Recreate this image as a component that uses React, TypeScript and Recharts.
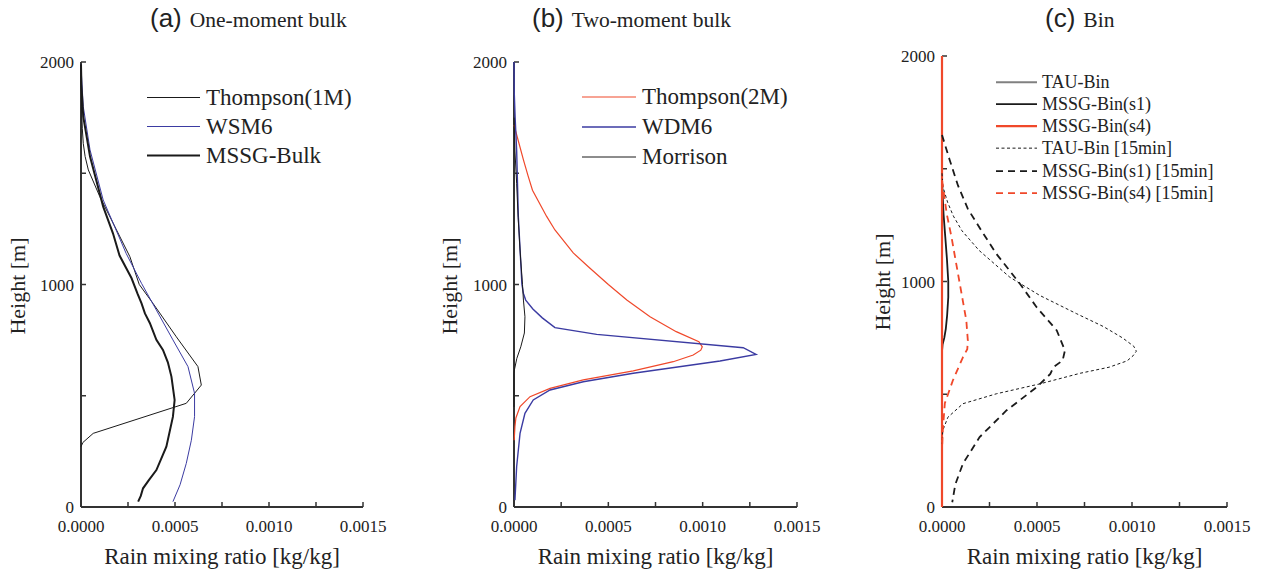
import React from "react"
import { Label, Legend, Scatter, ScatterChart, XAxis, YAxis } from "recharts"

const SERIF = '"Liberation Serif", "Times New Roman", Times, serif'
const SANS = '"Liberation Sans", Arial, sans-serif'

// axis ticks
const xTicks = [0, 0.00025, 0.0005, 0.00075, 0.001, 0.00125, 0.0015]
const xTickLabels = ["0.0000", "", "0.0005", "", "0.0010", "", "0.0015"]
const yTicks = [0, 500, 1000, 1500, 2000]
const yTickLabels = ["0", "", "1000", "", "2000"]

// (a) one-moment bulk: height [m] / rain mixing ratio [kg/kg]
const thompson1mH = [1975, 1800, 1700, 1634, 1575, 1515, 1395, 1245, 1125, 1000, 915, 765, 631, 548, 466, 331, 290, 271]
const thompson1mQ = [0, 0.000003, 0.000007, 0.000012, 0.000022, 0.000039, 0.0001, 0.000189, 0.00026, 0.00031, 0.000383, 0.000507, 0.000622, 0.00064, 0.00056, 0.000065, 0.00001, 0]
const wsm6H = [1990, 1935, 1800, 1605, 1380, 1140, 1005, 885, 751, 631, 511, 406, 300, 196, 100, 24]
const wsm6Q = [0, 0.000003, 0.000012, 0.000048, 0.000118, 0.00024, 0.000322, 0.000401, 0.000489, 0.000569, 0.000604, 0.000604, 0.000587, 0.00056, 0.000527, 0.000489]
const mssgBulkH = [1990, 1900, 1754, 1575, 1350, 1230, 1130, 1028, 960, 915, 870, 827, 751, 706, 650, 586, 481, 406, 271, 166, 120, 84, 50, 24]
const mssgBulkQ = [0, 0.000002, 0.000012, 0.000048, 0.000118, 0.00017, 0.000205, 0.000269, 0.0003, 0.000322, 0.00034, 0.000366, 0.000401, 0.000436, 0.000462, 0.000481, 0.000498, 0.000489, 0.000454, 0.000401, 0.00036, 0.00033, 0.000318, 0.000304]

// (b) two-moment bulk
const thompson2mH = [1717, 1645, 1560, 1487, 1424, 1306, 1245, 1142, 1080, 1000, 930, 855, 788, 743, 720, 705, 683, 653, 612, 571, 533, 496, 451, 400, 361, 300]
const thompson2mQ = [0, 0.000023, 0.00005, 0.000075, 0.000098, 0.000173, 0.000217, 0.000314, 0.000394, 0.0005, 0.000598, 0.000721, 0.00086, 0.00098, 0.000998, 0.00099, 0.00095, 0.000844, 0.000632, 0.000367, 0.000191, 0.000085, 0.000032, 0.00001, 0.000005, 0.000001]
const wdm6H = [2000, 1870, 1750, 1604, 1305, 1080, 1000, 960, 930, 890, 850, 806, 776, 716, 686, 656, 601, 563, 526, 481, 421, 331, 181, 31]
const wdm6Q = [0, 0.000001, 0.000006, 0.000014, 0.000023, 0.000037, 0.000042, 0.00005, 0.000062, 0.0001, 0.00015, 0.000217, 0.000438, 0.001215, 0.001283, 0.001092, 0.000632, 0.000367, 0.000191, 0.000102, 0.000058, 0.000032, 0.000014, 0.000005]
const morrisonH = [1750, 1600, 1455, 1300, 1155, 1000, 930, 855, 782, 720, 668, 620, 600, 450]
const morrisonQ = [0, 0.000005, 0.000014, 0.000022, 0.000032, 0.000045, 0.00005, 0.000058, 0.000055, 0.000036, 0.000015, 0.000003, 0, 0]

// (c) bin
const tauBinH = [2000, 0]
const tauBinQ = [0, 0]
const mssgS1H = [1450, 1300, 1200, 1100, 1000, 930, 850, 790, 750, 720, 690, 0]
const mssgS1Q = [0, 0.000008, 0.000017, 0.000026, 0.000033, 0.000033, 0.000027, 0.00002, 0.000012, 0.000003, 0, 0]
const mssgS4H = [2000, 0]
const mssgS4Q = [0, 0]
const tau15H = [1480, 1420, 1350, 1290, 1225, 1138, 1019, 938, 857, 800, 750, 713, 691, 670, 648, 620, 593, 546, 502, 458, 398, 339, 280]
const tau15Q = [0, 0.000005, 0.00003, 0.00006, 0.000105, 0.000195, 0.000357, 0.000515, 0.000709, 0.00085, 0.00095, 0.001009, 0.001023, 0.001005, 0.000974, 0.00088, 0.000727, 0.000515, 0.000286, 0.00011, 0.000031, 0.000004, 0]
const mssgS1_15H = [1650, 1540, 1426, 1322, 1226, 1123, 990, 886, 783, 694, 650, 620, 590, 531, 428, 310, 192, 100, 21]
const mssgS1_15Q = [0, 0.00004, 0.000084, 0.000136, 0.000207, 0.000286, 0.00041, 0.000498, 0.000604, 0.000647, 0.000635, 0.000586, 0.00057, 0.000498, 0.000339, 0.000198, 0.00011, 0.00007, 0.000054]
const mssgS4_15H = [1450, 1300, 1197, 1078, 960, 827, 738, 700, 664, 561, 460, 339, 250]
const mssgS4_15Q = [0, 0.000025, 0.00005, 0.000075, 0.0001, 0.000128, 0.000136, 0.000133, 0.00011, 0.000057, 0.000015, 0.000004, 0]

const toPoints = (h: number[], q: number[]) => h.map((y, i) => ({ x: q[i], y }))

const RED = "#f0482a"
const BLUE = "#3b3ba2"
const BLACK = "#1a1a1a"

type Series = { name: string; points: { x: number; y: number }[]; color: string; width: number; dash?: string }

const panelA: Series[] = [
  { name: "Thompson(1M)", points: toPoints(thompson1mH, thompson1mQ), color: BLACK, width: 1 },
  { name: "WSM6", points: toPoints(wsm6H, wsm6Q), color: BLUE, width: 1 },
  { name: "MSSG-Bulk", points: toPoints(mssgBulkH, mssgBulkQ), color: BLACK, width: 2 },
]
const panelB: Series[] = [
  { name: "Thompson(2M)", points: toPoints(thompson2mH, thompson2mQ), color: RED, width: 1.2 },
  { name: "WDM6", points: toPoints(wdm6H, wdm6Q), color: BLUE, width: 1.4 },
  { name: "Morrison", points: toPoints(morrisonH, morrisonQ), color: BLACK, width: 1 },
]
const panelC: Series[] = [
  { name: "TAU-Bin", points: toPoints(tauBinH, tauBinQ), color: "#808080", width: 2 },
  { name: "MSSG-Bin(s1)", points: toPoints(mssgS1H, mssgS1Q), color: BLACK, width: 1.8 },
  { name: "MSSG-Bin(s4)", points: toPoints(mssgS4H, mssgS4Q), color: RED, width: 2.2 },
  { name: "TAU-Bin [15min]", points: toPoints(tau15H, tau15Q), color: BLACK, width: 1, dash: "3 2.5" },
  { name: "MSSG-Bin(s1) [15min]", points: toPoints(mssgS1_15H, mssgS1_15Q), color: BLACK, width: 1.8, dash: "7 5" },
  { name: "MSSG-Bin(s4) [15min]", points: toPoints(mssgS4_15H, mssgS4_15Q), color: RED, width: 1.8, dash: "7 5" },
]

const NoDot = () => <g />

const PanelLegend = ({ items, rowH, fontSize, lineLen, gap }) => (
  <div style={{ fontFamily: SERIF, fontSize, color: "#222" }}>
    {items.map((s: Series) => (
      <div key={s.name} style={{ display: "flex", alignItems: "center", height: rowH, whiteSpace: "nowrap" }}>
        <svg width={lineLen} height={rowH} style={{ display: "block" }}>
          <line x1={0} x2={lineLen} y1={rowH / 2} y2={rowH / 2} stroke={s.color} strokeWidth={s.width} strokeDasharray={s.dash} />
        </svg>
        <span style={{ marginLeft: gap, lineHeight: `${rowH}px` }}>{s.name}</span>
      </div>
    ))}
  </div>
)

const axisLine = { stroke: "#333", strokeWidth: 2 }
const tickLine = { stroke: "#333", strokeWidth: 1.5 }
const tickStyle = { fill: "#222", fontSize: 17, fontFamily: SERIF }

const Panel = ({ left, width, plotLeft, plotRight, plotTop, plotBottom, series, legend }) => {
  const yAxisW = 40
  const xAxisH = 40
  return (
    <div style={{ position: "absolute", left, top: 0 }}>
      <ScatterChart
        width={width}
        height={574}
        margin={{ top: plotTop, bottom: 574 - plotBottom - xAxisH, left: plotLeft - left - yAxisW, right: left + width - plotRight }}
        style={{ fontFamily: SERIF }}
      >
        <XAxis xAxisId="x" type="number" dataKey="x" domain={[0, 0.0015]} ticks={xTicks} interval={0}
          tickFormatter={(v) => xTickLabels[xTicks.indexOf(v)] ?? ""} height={xAxisH}
          tickSize={-5} tickMargin={18} axisLine={axisLine} tickLine={tickLine} tick={tickStyle}>
          <Label value="Rain mixing ratio [kg/kg]" position="bottom" offset={1} fontSize={23} fontFamily={SERIF} fill="#222" />
        </XAxis>
        <XAxis xAxisId="top" orientation="top" type="number" domain={[0, 0.0015]} ticks={xTicks} interval={0}
          tickFormatter={() => ""} height={0} tickSize={-5} axisLine={axisLine} tickLine={tickLine} />
        <YAxis yAxisId="y" type="number" dataKey="y" domain={[0, 2000]} ticks={yTicks} interval={0}
          tickFormatter={(v) => yTickLabels[yTicks.indexOf(v)] ?? ""} width={yAxisW}
          tickSize={-5} tickMargin={12} axisLine={axisLine} tickLine={tickLine} tick={tickStyle} />
        <YAxis yAxisId="right" orientation="right" type="number" domain={[0, 2000]} ticks={yTicks} interval={0}
          tickFormatter={() => ""} width={0} tickSize={-5} axisLine={axisLine} tickLine={tickLine} />
        {series.map((s: Series) => (
          <Scatter key={s.name} name={s.name} data={s.points} xAxisId="x" yAxisId="y" fill="none"
            line={{ stroke: s.color, strokeWidth: s.width, strokeDasharray: s.dash }}
            shape={NoDot} legendType="none" isAnimationActive={false} />
        ))}
        <Legend layout="vertical" align="center" verticalAlign="middle"
          wrapperStyle={{ left: legend.left - left, top: legend.top, width: "auto" }}
          content={() => <PanelLegend items={series} rowH={legend.rowH} fontSize={legend.fontSize} lineLen={legend.lineLen} gap={legend.gap} />} />
      </ScatterChart>
    </div>
  )
}

const titles = [
  { tag: "(a)", name: "One-moment bulk", x: 150 },
  { tag: "(b)", name: "Two-moment bulk", x: 532 },
  { tag: "(c)", name: "Bin", x: 1045 },
]
const yLabels = [
  { x: 25, y: 286 },
  { x: 456.5, y: 286 },
  { x: 889.5, y: 282 },
]

export default function App() {
  return (
    <div style={{ position: "absolute", left: 0, top: 0, width: 1267, height: 574, background: "#fff" }}>
      <Panel left={0} width={420} plotLeft={81} plotRight={363} plotTop={62} plotBottom={507} series={panelA}
        legend={{ left: 147, top: 82.5, rowH: 29, fontSize: 23, lineLen: 53, gap: 6 }} />
      <Panel left={430} width={420} plotLeft={514} plotRight={797} plotTop={62} plotBottom={507} series={panelB}
        legend={{ left: 582, top: 81.7, rowH: 30, fontSize: 23, lineLen: 54, gap: 6 }} />
      <Panel left={860} width={407} plotLeft={942} plotRight={1227} plotTop={56} plotBottom={507} series={panelC}
        legend={{ left: 996, top: 70.5, rowH: 22.3, fontSize: 18, lineLen: 41, gap: 5 }} />
      <svg width={1267} height={574} style={{ position: "absolute", left: 0, top: 0, pointerEvents: "none" }}>
        {titles.map((t) => (
          <text key={t.tag} x={t.x} y={27} fill="#222">
            <tspan fontFamily={SANS} fontSize={26}>{t.tag}</tspan>
            <tspan dx={8} fontFamily={SERIF} fontSize={21.5}>{t.name}</tspan>
          </text>
        ))}
        {yLabels.map((p, i) => (
          <text key={i} transform={`translate(${p.x},${p.y}) rotate(-90)`} textAnchor="middle" fontFamily={SERIF} fontSize={22} fill="#222">
            Height [m]
          </text>
        ))}
      </svg>
    </div>
  )
}
